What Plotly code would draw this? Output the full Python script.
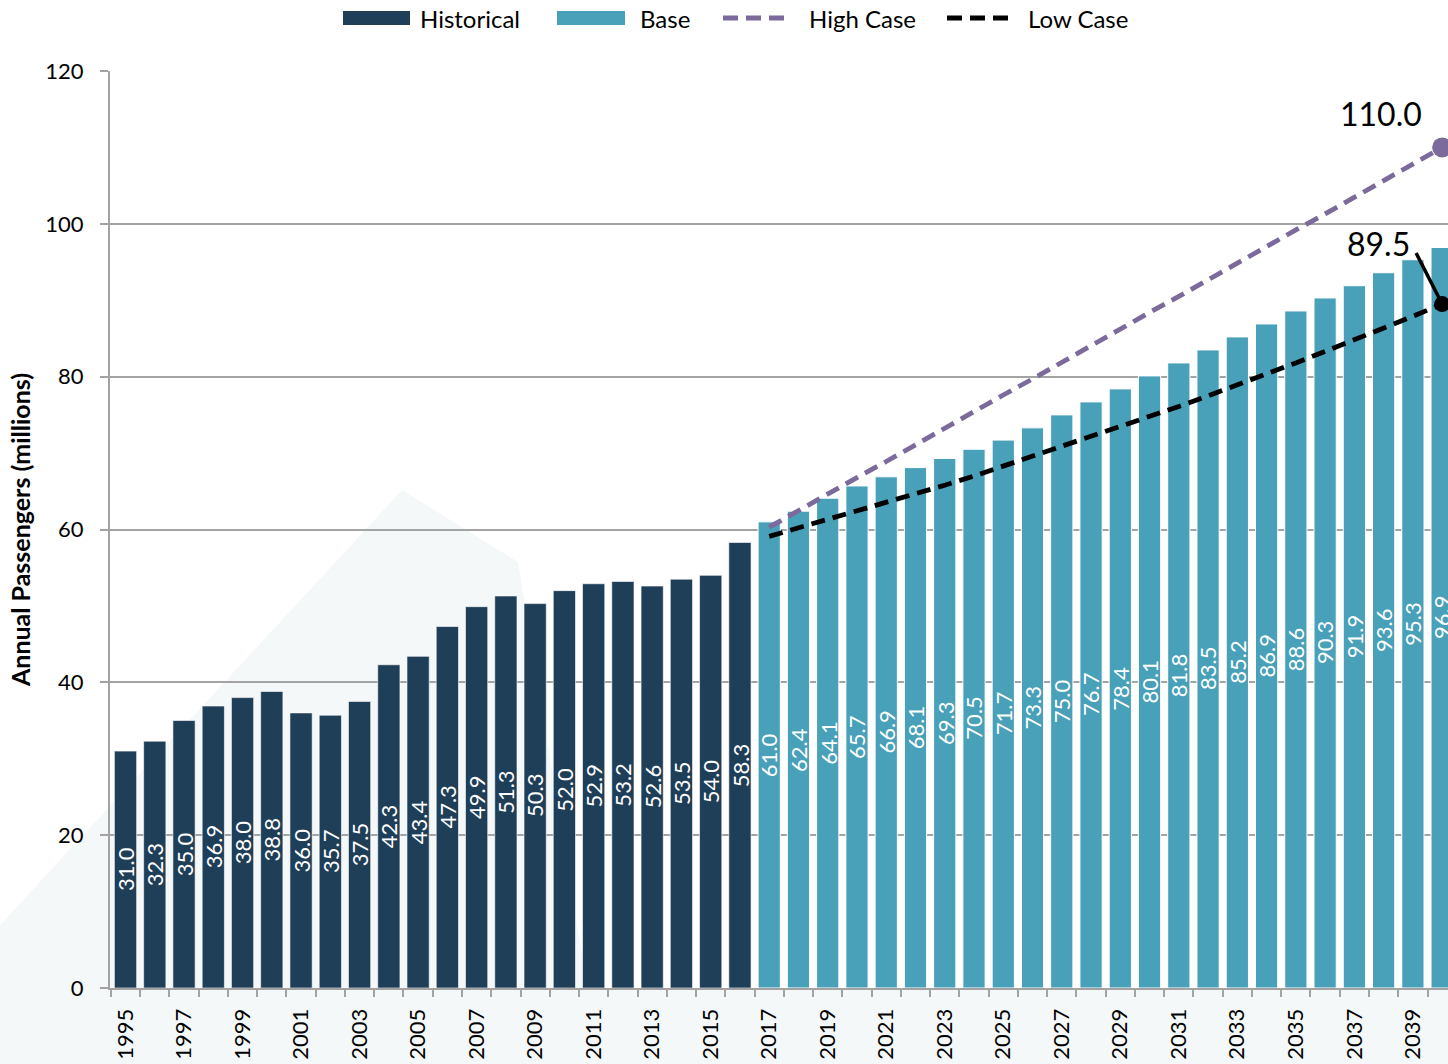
import plotly.graph_objects as go

# ---------------- data ----------------
hist_years = list(range(1995, 2017))
hist_values = [31.0, 32.3, 35.0, 36.9, 38.0, 38.8, 36.0, 35.7, 37.5, 42.3, 43.4,
               47.3, 49.9, 51.3, 50.3, 52.0, 52.9, 53.2, 52.6, 53.5, 54.0, 58.3]

base_years = list(range(2017, 2041))
base_values = [61.0, 62.4, 64.1, 65.7, 66.9, 68.1, 69.3, 70.5, 71.7, 73.3, 75.0, 76.7,
               78.4, 80.1, 81.8, 83.5, 85.2, 86.9, 88.6, 90.3, 91.9, 93.6, 95.3, 96.9]

high_values = [60.3, 62.5, 64.6, 66.8, 68.9, 71.1, 73.3, 75.4, 77.6, 79.7, 81.9, 84.1,
               86.2, 88.4, 90.5, 92.7, 94.9, 97.0, 99.2, 101.3, 103.5, 105.7, 107.8, 110.0]
low_values = [59.1, 60.2, 61.3, 62.4, 63.5, 64.7, 65.8, 67.0, 68.3, 69.5, 70.8, 72.1,
              73.4, 74.7, 76.1, 77.5, 78.9, 80.3, 81.8, 83.3, 84.8, 86.3, 87.9, 89.5]

y_ticks = [0, 20, 40, 60, 80, 100, 120]
x_tick_years = list(range(1995, 2041, 2))

# ---------------- style ----------------
FONT = "Lato"
C_HIST = "#1f3e58"
C_BASE = "#48a0b9"
C_HIGH = "#7b6a9b"
C_LOW = "#000000"
C_GRID = "#a3a3a3"

W, H = 1448, 1064
L, R, T, B = 110, 0, 71, 76
PW, PH = W - L - R, H - T - B


def px(x):
    # screen pixel x -> paper fraction
    return (x - L) / PW


def py(y):
    # screen pixel y -> paper fraction
    return (H - B - y) / PH


fig = go.Figure()

fig.add_trace(go.Bar(x=hist_years, y=hist_values, name="Historical", width=0.76,
                     marker=dict(color=C_HIST, line=dict(color="rgba(255,255,255,0.6)", width=1)),
                     showlegend=False))
fig.add_trace(go.Bar(x=base_years, y=base_values, name="Base", width=0.76,
                     marker=dict(color=C_BASE, line=dict(color="white", width=1)),
                     showlegend=False))
fig.add_trace(go.Scatter(x=base_years, y=high_values, name="High Case", mode="lines",
                         line=dict(color=C_HIGH, width=4.8, dash="14px,8px"),
                         showlegend=False))
fig.add_trace(go.Scatter(x=base_years, y=low_values, name="Low Case", mode="lines",
                         line=dict(color=C_LOW, width=4.8, dash="14px,8px"),
                         showlegend=False))
fig.add_trace(go.Scatter(x=[base_years[-1]], y=[high_values[-1]], mode="markers",
                         marker=dict(color=C_HIGH, size=20), showlegend=False, hoverinfo="skip"))
fig.add_trace(go.Scatter(x=[base_years[-1]], y=[low_values[-1]], mode="markers",
                         marker=dict(color=C_LOW, size=16), showlegend=False, hoverinfo="skip"))

annotations = []
for yr, v in list(zip(hist_years, hist_values)) + list(zip(base_years, base_values)):
    annotations.append(dict(x=yr, y=v / 2, text=f"{v:.1f}", textangle=-90, showarrow=False,
                            font=dict(family=FONT, size=22, color="white"),
                            xanchor="center", yanchor="middle"))

# end labels
annotations.append(dict(x=base_years[-1], y=high_values[-1], text=f"{high_values[-1]:.1f}",
                        showarrow=False, xshift=-61, yshift=34,
                        font=dict(family=FONT, size=32, color="black")))
annotations.append(dict(x=base_years[-1], y=low_values[-1], text=f"{low_values[-1]:.1f}",
                        showarrow=False, xshift=-64, yshift=61,
                        font=dict(family=FONT, size=32, color="black")))

# legend (manual)
leg_y = py(18)
legend_items = [
    ("rect", C_HIST, 343, 410, 418, "Historical"),
    ("rect", C_BASE, 557, 625, 638, "Base"),
    ("line", C_HIGH, 723, 790, 807, "High Case"),
    ("line", C_LOW, 947, 1015, 1026, "Low Case"),
]
shapes = []
for kind, col, x0, x1, tx, label in legend_items:
    if kind == "rect":
        shapes.append(dict(type="rect", xref="paper", yref="paper", x0=px(x0), x1=px(x1),
                           y0=py(25), y1=py(11), fillcolor=col, line=dict(width=0)))
    else:
        shapes.append(dict(type="line", xref="paper", yref="paper", x0=px(x0), x1=px(x1),
                           y0=leg_y, y1=leg_y, line=dict(color=col, width=5, dash="15px,8px")))
    annotations.append(dict(xref="paper", yref="paper", x=px(tx), y=leg_y, text=label,
                            showarrow=False, xanchor="left", yanchor="middle",
                            font=dict(family=FONT, size=24, color="black")))

# leader line for low-case label
shapes.append(dict(type="line", xref="x", yref="y", xsizemode="pixel", ysizemode="pixel",
                   xanchor=base_years[-1], yanchor=low_values[-1],
                   x0=-26, x1=0, y0=51, y1=0, line=dict(color="black", width=3.5)))

# faint watermark
shapes.append(dict(type="path", xref="paper", yref="paper", layer="below",
                   path=(f"M {px(0)},{py(925)} L {px(402)},{py(490)} L {px(518)},{py(562)} "
                         f"L {px(600)},{py(1064)} L {px(0)},{py(1064)} Z"),
                   fillcolor="#f5f8f9", line=dict(width=0)))
shapes.append(dict(type="rect", xref="paper", yref="paper", layer="below",
                   x0=px(0), x1=px(1448), y0=py(1064), y1=py(990),
                   fillcolor="#f5f8f9", line=dict(width=0)))

fig.update_layout(
    width=W, height=H,
    margin=dict(l=L, r=R, t=T, b=B, pad=0),
    paper_bgcolor="white", plot_bgcolor="rgba(0,0,0,0)",
    font=dict(family=FONT, color="black"),
    barmode="overlay",
    showlegend=False,
    annotations=annotations,
    shapes=shapes,
)

fig.update_yaxes(range=[0, 120], tickmode="array", tickvals=y_ticks,
                 showgrid=True, gridcolor=C_GRID, gridwidth=2,
                 showline=True, linecolor=C_GRID, linewidth=2,
                 ticks="outside", ticklen=8, tickcolor=C_GRID, tickwidth=2,
                 ticklabelstandoff=12, zeroline=False,
                 tickfont=dict(family=FONT, size=22, color="black"),
                 title=dict(text="<b>Annual Passengers (millions)</b>", standoff=8,
                            font=dict(family=FONT, size=25, color="black")))

fig.update_xaxes(range=[1994.47, 2040.2], tickmode="array", tickvals=x_tick_years,
                 ticktext=[str(y) for y in x_tick_years],
                 tickangle=-90, showgrid=False, zeroline=False,
                 showline=True, linecolor=C_GRID, linewidth=2,
                 ticks="", ticklabelstandoff=10,
                 minor=dict(ticks="outside", tick0=1994.5, dtick=1, ticklen=7,
                            tickcolor=C_GRID, tickwidth=2, showgrid=False),
                 tickfont=dict(family=FONT, size=22, color="black"))

fig.write_html(
    "out.html",
    config={"displayModeBar": False},
    post_script="document.body.style.margin='0';document.body.style.overflow='hidden';",
)
